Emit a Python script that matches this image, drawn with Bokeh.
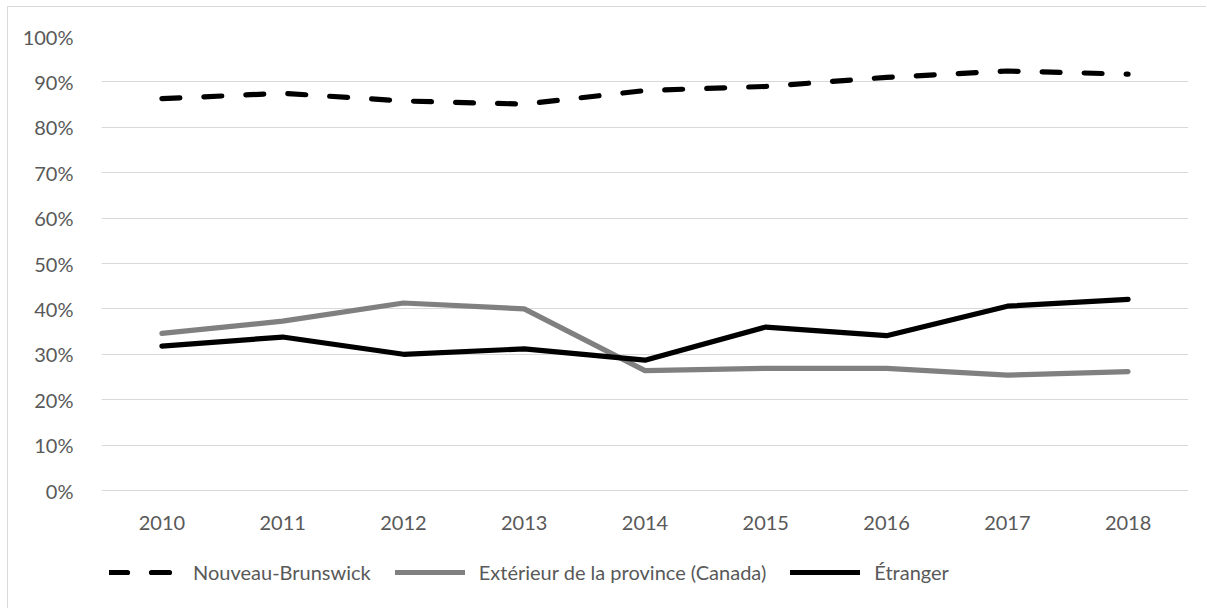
from bokeh.plotting import figure
from bokeh.models import FactorRange, Range1d, Legend, LegendItem, FixedTicker
from bokeh.embed import file_html
from bokeh.resources import INLINE

years = ["2010", "2011", "2012", "2013", "2014", "2015", "2016", "2017", "2018"]
nouveau_brunswick = [86.3, 87.5, 85.8, 85.1, 88.1, 89.0, 91.0, 92.4, 91.7]
exterieur = [34.6, 37.3, 41.3, 40.0, 26.4, 26.9, 26.9, 25.4, 26.2]
etranger = [31.8, 33.8, 30.0, 31.2, 28.7, 36.0, 34.1, 40.6, 42.1]
y_ticks = [0, 10, 20, 30, 40, 50, 60, 70, 80, 90, 100]
y_tick_labels = ["0%", "10%", "20%", "30%", "40%", "50%", "60%", "70%", "80%", "90%", "100%"]
series_names = ["Nouveau-Brunswick", "Extérieur de la province (Canada)", "Étranger"]

FONT = "Lato"
TXT = "#595959"
GRID = "#d9d9d9"

# plot area: 100% at top, 0% 454 px lower; the frame continues below 0%
# to leave room for the category labels and the legend
PX_PER_PCT = 4.54
FRAME_H = 558
y_bottom = -(FRAME_H - 100 * PX_PER_PCT) / PX_PER_PCT

p = figure(
    x_range=FactorRange(*years), y_range=Range1d(y_bottom, 100),
    frame_width=1087, frame_height=FRAME_H,
    min_border_left=93, min_border_top=29, min_border_right=18, min_border_bottom=14,
    output_backend="svg", toolbar_location=None,
)
p.styles = {"border-left": "1px solid #d9d9d9", "border-top": "1px solid #d9d9d9",
            "margin-left": "7px", "margin-top": "6px"}
p.outline_line_color = None
p.background_fill_color = "white"
p.border_fill_color = "white"

p.xgrid.grid_line_color = None
p.ygrid.grid_line_color = GRID
p.ygrid.grid_line_width = 1
p.ygrid.ticker = FixedTicker(ticks=y_ticks)

p.yaxis.ticker = FixedTicker(ticks=y_ticks)
p.yaxis.major_label_overrides = {t: l for t, l in zip(y_ticks, y_tick_labels)}
p.xaxis.fixed_location = 0
for ax in (p.xaxis, p.yaxis):
    ax.axis_line_color = None
    ax.major_tick_line_color = None
    ax.minor_tick_line_color = None
    ax.major_label_text_font = FONT
    ax.major_label_text_font_size = "20px"
    ax.major_label_text_color = TXT
p.yaxis.major_label_standoff = 22
p.xaxis.major_label_standoff = 19

LW = 5.2
r1 = p.line(years, nouveau_brunswick, line_color="black", line_width=LW,
            line_dash="18 24", line_cap="round", line_join="round")
r2 = p.line(years, exterieur, line_color="#808080", line_width=LW,
            line_cap="round", line_join="round")
r3 = p.line(years, etranger, line_color="black", line_width=LW,
            line_cap="round", line_join="round")

legend = Legend(
    items=[LegendItem(label=n, renderers=[r]) for n, r in zip(series_names, [r1, r2, r3])],
    orientation="horizontal", location=(8, 10),
    glyph_width=70, glyph_height=20, label_standoff=14, spacing=24,
    padding=0, margin=0, border_line_color=None, background_fill_alpha=0,
    label_text_font=FONT, label_text_font_size="20px", label_text_color=TXT,
)
p.add_layout(legend, "center")

open("out.html", "w").write(file_html(p, INLINE))
